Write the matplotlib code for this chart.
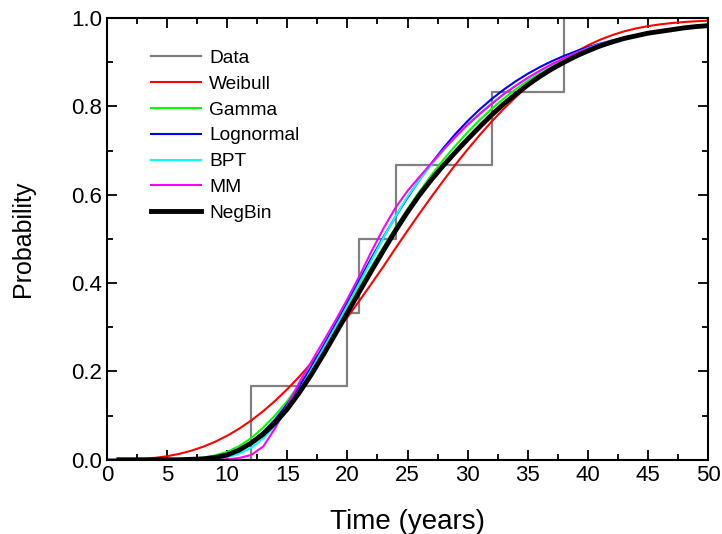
import matplotlib
matplotlib.use('Agg')
import matplotlib.pyplot as plt
from matplotlib.ticker import MultipleLocator

# empirical recurrence data (step function)
event_times = [0, 12, 20, 21, 24, 32, 38]
data_prob = [0.0, 0.1667, 0.3333, 0.5, 0.6667, 0.8333, 1.0]

years = [0, 1, 2, 3, 4, 5, 6, 7, 8, 9, 10, 11, 12, 13, 14, 15, 16, 17, 18, 19,
         20, 21, 22, 23, 24, 25, 26, 27, 28, 29, 30, 31, 32, 33, 34, 35, 36, 37,
         38, 39, 40, 41, 42, 43, 44, 45, 46, 47, 48, 49, 50]

weibull = [0.0, 0.0001, 0.0006, 0.0019, 0.0043, 0.0080, 0.0133, 0.0204, 0.0295, 0.0408,
           0.0544, 0.0705, 0.0890, 0.1101, 0.1338, 0.1599, 0.1884, 0.2191, 0.2520, 0.2866,
           0.3228, 0.3603, 0.3989, 0.4381, 0.4790, 0.5190, 0.5580, 0.5960, 0.6330, 0.6690,
           0.7030, 0.7355, 0.7662, 0.7949, 0.8214, 0.8460, 0.8685, 0.8890, 0.9075, 0.9240,
           0.9385, 0.9510, 0.9615, 0.9700, 0.9768, 0.9820, 0.9860, 0.9890, 0.9913, 0.9930,
           0.9943]

gamma = [0.0, 0.0, 0.0, 0.0, 0.0001, 0.0003, 0.0009, 0.002, 0.005, 0.010,
         0.018, 0.031, 0.049, 0.073, 0.101, 0.133, 0.170, 0.210, 0.253, 0.298,
         0.344, 0.391, 0.437, 0.482, 0.526, 0.568, 0.608, 0.645, 0.680, 0.712,
         0.742, 0.770, 0.795, 0.818, 0.839, 0.858, 0.875, 0.890, 0.904, 0.916,
         0.927, 0.937, 0.946, 0.953, 0.960, 0.966, 0.971, 0.975, 0.979, 0.982,
         0.985]

lognormal = [0.0, 0.0, 0.0, 0.0, 0.0, 0.0, 0.0001, 0.0006, 0.0022, 0.0058,
             0.0126, 0.0237, 0.0404, 0.0630, 0.0918, 0.1265, 0.1663, 0.2104, 0.2577, 0.3069,
             0.3572, 0.4075, 0.4568, 0.5047, 0.5505, 0.5938, 0.6343, 0.6719, 0.7066, 0.7384,
             0.7673, 0.7935, 0.8171, 0.8383, 0.8573, 0.8742, 0.8893, 0.9027, 0.9145, 0.9250,
             0.9342, 0.9422, 0.9494, 0.9556, 0.9612, 0.9660, 0.9703, 0.9740, 0.9772, 0.9800,
             0.9826]

bpt = [0.0, 0.0, 0.0, 0.0, 0.0, 0.0, 0.0, 0.0, 0.0007, 0.002,
       0.006, 0.014, 0.027, 0.048, 0.077, 0.113, 0.156, 0.204, 0.252, 0.300,
       0.349, 0.400, 0.452, 0.503, 0.551, 0.596, 0.634, 0.669, 0.701, 0.731,
       0.759, 0.784, 0.807, 0.828, 0.847, 0.864, 0.880, 0.895, 0.909, 0.921,
       0.932, 0.941, 0.949, 0.956, 0.962, 0.967, 0.972, 0.976, 0.979, 0.982,
       0.984]

mm = [0.0, 0.0, 0.0, 0.0, 0.0, 0.0, 0.0, 0.0, 0.0, 0.0,
      0.001, 0.004, 0.011, 0.030, 0.072, 0.123, 0.175, 0.222, 0.268, 0.315,
      0.364, 0.416, 0.472, 0.524, 0.571, 0.609, 0.641, 0.672, 0.703, 0.732,
      0.759, 0.783, 0.806, 0.828, 0.847, 0.865, 0.881, 0.896, 0.909, 0.921,
      0.931, 0.940, 0.948, 0.955, 0.961, 0.966, 0.971, 0.975, 0.978, 0.981,
      0.983]

negbin = [0.0, 0.0, 0.0, 0.0, 0.0, 0.0, 0.0, 0.001, 0.002, 0.005,
          0.011, 0.022, 0.038, 0.058, 0.084, 0.115, 0.152, 0.193, 0.238, 0.285,
          0.333, 0.381, 0.428, 0.474, 0.519, 0.561, 0.600, 0.635, 0.667, 0.697,
          0.726, 0.754, 0.781, 0.806, 0.828, 0.849, 0.868, 0.885, 0.900, 0.914,
          0.926, 0.937, 0.946, 0.954, 0.960, 0.966, 0.970, 0.974, 0.978, 0.981,
          0.983]

plt.rcParams['font.family'] = ['Liberation Sans', 'DejaVu Sans']

fig = plt.figure(figsize=(7.22, 5.34), dpi=100)
ax = fig.add_axes([0.148, 0.139, 0.833, 0.827])

ax.step(event_times, data_prob, where='post', color='#808080', lw=1.6, label='Data')
ax.plot(years, weibull, color='#ff0000', lw=1.5, label='Weibull')
ax.plot(years, gamma, color='#00ff00', lw=1.5, label='Gamma')
ax.plot(years, lognormal, color='#0000ff', lw=1.5, label='Lognormal')
ax.plot(years, bpt, color='#00ffff', lw=1.5, label='BPT')
ax.plot(years, mm, color='#ff00ff', lw=1.5, label='MM')
ax.plot(years[1:], negbin[1:], color='black', lw=3.5, label='NegBin')

ax.set_xlim(0, 50)
ax.set_ylim(0, 1.0)
ax.xaxis.set_major_locator(MultipleLocator(5))
ax.xaxis.set_minor_locator(MultipleLocator(2.5))
ax.yaxis.set_major_locator(MultipleLocator(0.2))
ax.yaxis.set_minor_locator(MultipleLocator(0.1))
ax.yaxis.set_major_formatter(matplotlib.ticker.FormatStrFormatter('%.1f'))
ax.tick_params(which='both', direction='in', top=True, right=True, width=1.3,
               labelsize=16)
ax.tick_params(which='major', length=7)
ax.tick_params(which='minor', length=4)
for sp in ax.spines.values():
    sp.set_linewidth(1.5)

ax.set_xlabel('Time (years)', fontsize=20, labelpad=17)
ax.set_ylabel('Probability', fontsize=18, labelpad=26)

ax.legend(loc='upper left', bbox_to_anchor=(0.057, 0.95), frameon=False,
          fontsize=13.75, handlelength=2.65, handletextpad=0.4, labelspacing=0.44,
          borderpad=0)

fig.savefig('out.png', dpi=100)
